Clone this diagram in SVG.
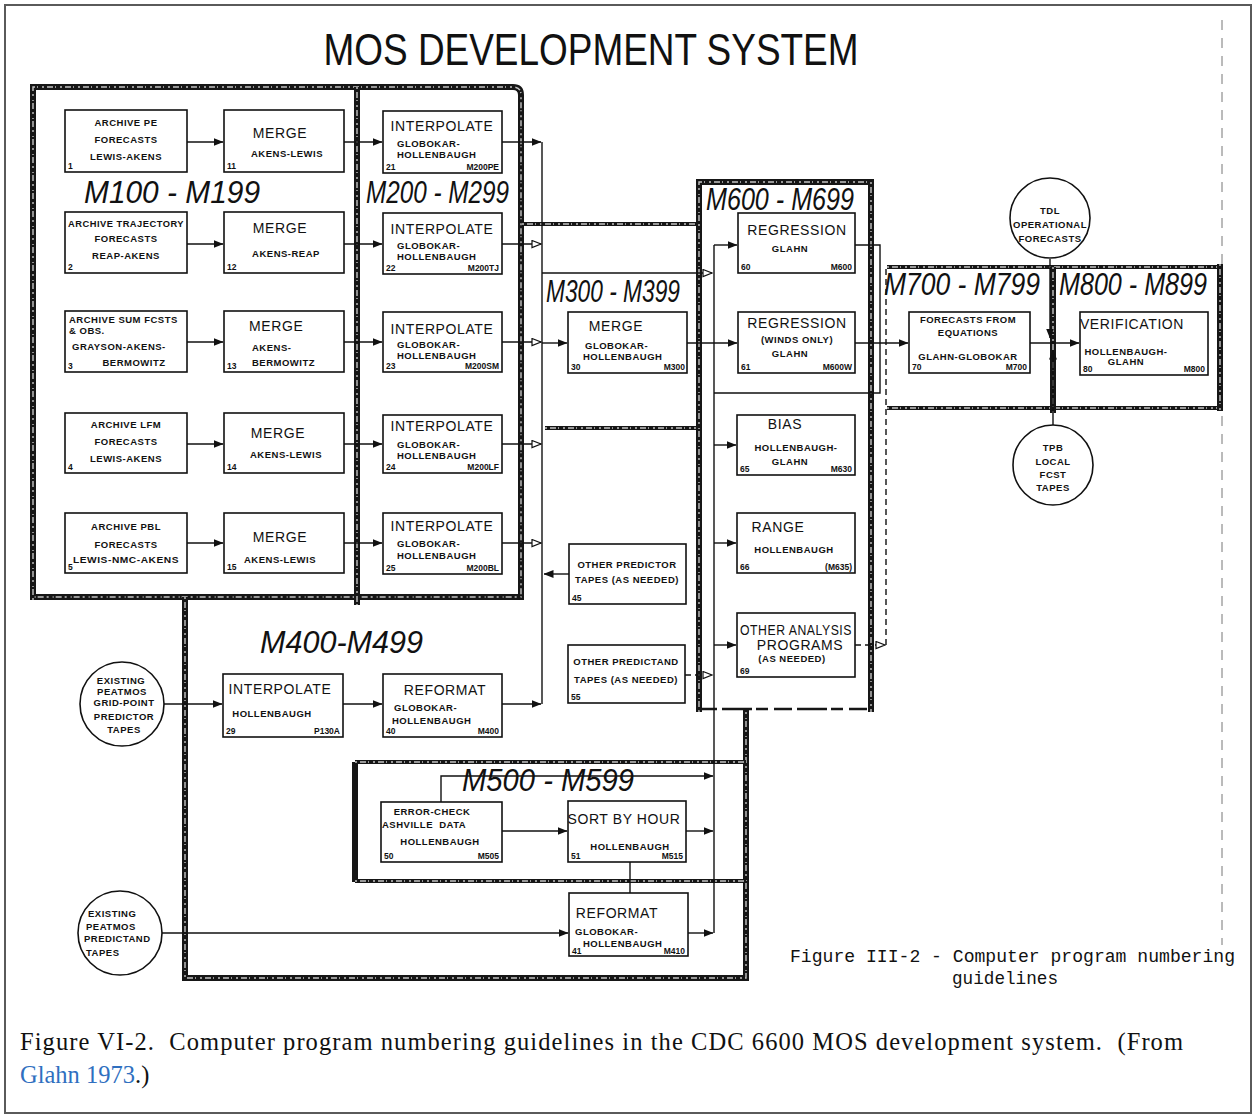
<svg xmlns="http://www.w3.org/2000/svg" width="1256" height="1118" viewBox="0 0 1256 1118">
<defs>
<marker id="ah" markerWidth="10" markerHeight="8" refX="9.5" refY="4" orient="auto" markerUnits="userSpaceOnUse"><path d="M0,0 L10,4 L0,8 z" fill="#111"/></marker>
<marker id="ao" markerWidth="11" markerHeight="9" refX="10" refY="4.5" orient="auto" markerUnits="userSpaceOnUse"><path d="M1,1 L10,4.5 L1,8 z" fill="#fff" stroke="#111" stroke-width="1.2"/></marker>
<style>
.bx{fill:#fff;stroke:#111;stroke-width:1.6}
.ci{fill:#fff;stroke:#111;stroke-width:1.6}
.s{font-family:"Liberation Sans",Arial,sans-serif;font-weight:bold;font-size:9.5px;letter-spacing:.5px;fill:#111;text-anchor:middle}
.sl{font-family:"Liberation Sans",Arial,sans-serif;font-weight:bold;font-size:9.5px;letter-spacing:.5px;fill:#111;text-anchor:start}
.b{font-family:"Liberation Sans",Arial,sans-serif;font-size:14px;letter-spacing:.6px;fill:#111;text-anchor:middle}
.bl{font-family:"Liberation Sans",Arial,sans-serif;font-size:14px;letter-spacing:.6px;fill:#111;text-anchor:start}
.nm{font-family:"Liberation Sans",Arial,sans-serif;font-weight:bold;font-size:8.5px;fill:#111;text-anchor:start}
.cd{font-family:"Liberation Sans",Arial,sans-serif;font-weight:bold;font-size:8.5px;fill:#111;text-anchor:end}
.hw{font-family:"Liberation Sans",Arial,sans-serif;font-style:italic;font-size:31px;fill:#111}
.gb{fill:none;stroke:#161616;stroke-width:6}
.gh{fill:none;stroke:#161616;stroke-width:4}
.gt{fill:none;stroke:#fff;stroke-width:1.4;stroke-dasharray:2 3 6 2 1 4;opacity:.75}
.ln{fill:none;stroke:#111;stroke-width:1.4}
.dl{fill:none;stroke:#111;stroke-width:1.4;stroke-dasharray:6 4}
.mono{font-family:"Liberation Mono","Courier New",monospace;font-size:18px;fill:#111}
.cap{font-family:"Liberation Serif","Times New Roman",serif;font-size:24.5px;fill:#111}
</style>
</defs>
<rect width="1256" height="1118" fill="#fff"/>
<rect x="5" y="5" width="1246" height="1108" fill="none" stroke="#5a5a5a" stroke-width="2"/>
<path d="M1222,20 V945" fill="none" stroke="#777" stroke-width="1" stroke-dasharray="10 8"/>

<text x="591" y="65" font-family="'Liberation Sans Narrow','Liberation Sans',Arial,sans-serif" font-size="44" fill="#111" text-anchor="middle" textLength="535" lengthAdjust="spacingAndGlyphs">MOS DEVELOPMENT SYSTEM</text>

<g id="groups">
<path class="gb" d="M33,600 V87 H513 Q521,87 521,95 V597 H33"/>
<path class="gt" d="M33,600 V87 H513 Q521,87 521,95 V597 H33"/>
<path class="gb" d="M357,87 V605"/>
<path class="gt" d="M357,87 V605"/>
<path class="gh" d="M522,224 H697 M545,428 H697"/>
<path class="gt" d="M522,224 H697 M545,428 H697"/>
<path class="gb" d="M699,712 V182 H871 V712"/>
<path class="gt" d="M699,712 V182 H871 V712"/>
<path fill="none" stroke="#161616" stroke-width="2.5" stroke-dasharray="18 5 30 4 12 6" d="M699,709 H871"/>
<path class="gb" d="M185,597 V978 H746 V709"/>
<path class="gt" d="M185,597 V978 H746 V709"/>
<path class="gb" d="M355,762 V882"/>
<path class="gh" d="M355,762 H746 M355,881 H746"/>
<path class="gt" d="M355,762 H746 M355,881 H746"/>
<path class="gh" d="M887,267 H1220 M887,408 H1220"/>
<path class="gt" d="M887,267 H1220 M887,408 H1220"/>
<path class="gb" d="M1220,264 V411"/>
<path class="gb" d="M1053,267 V413"/>
<path class="gt" d="M1053,267 V413 M1220,264 V411"/>
</g>

<g id="labels">
<text class="hw" x="84" y="203" textLength="176" lengthAdjust="spacingAndGlyphs">M100 - M199</text>
<text class="hw" x="366" y="203" textLength="143" lengthAdjust="spacingAndGlyphs">M200 - M299</text>
<text class="hw" x="546" y="302" textLength="134" lengthAdjust="spacingAndGlyphs" font-size="28">M300 - M399</text>
<text class="hw" x="260" y="653" textLength="163" lengthAdjust="spacingAndGlyphs">M400-M499</text>
<text class="hw" x="462" y="791" textLength="172" lengthAdjust="spacingAndGlyphs">M500 - M599</text>
<text class="hw" x="706" y="210" textLength="148" lengthAdjust="spacingAndGlyphs" font-size="27">M600 - M699</text>
<text class="hw" x="884" y="295" textLength="156" lengthAdjust="spacingAndGlyphs" font-size="27">M700 - M799</text>
<text class="hw" x="1059" y="295" textLength="148" lengthAdjust="spacingAndGlyphs" font-size="27">M800 - M899</text>
</g>

<g id="connectors">
<path class="ln" marker-end="url(#ah)" d="M187,142 H223"/>
<path class="ln" marker-end="url(#ah)" d="M187,244 H223"/>
<path class="ln" marker-end="url(#ah)" d="M187,342 H223"/>
<path class="ln" marker-end="url(#ah)" d="M187,444 H223"/>
<path class="ln" marker-end="url(#ah)" d="M187,543 H223"/>
<path class="ln" marker-end="url(#ah)" d="M344,142 H382"/>
<path class="ln" marker-end="url(#ah)" d="M344,244 H382"/>
<path class="ln" marker-end="url(#ah)" d="M344,342 H382"/>
<path class="ln" marker-end="url(#ah)" d="M344,444 H382"/>
<path class="ln" marker-end="url(#ah)" d="M344,543 H382"/>
<path class="ln" marker-end="url(#ah)" d="M502,142 H541"/>
<path class="ln" marker-end="url(#ao)" d="M502,244 H541"/>
<path class="ln" marker-end="url(#ao)" d="M502,342 H541"/>
<path class="ln" marker-end="url(#ao)" d="M502,444 H541"/>
<path class="ln" marker-end="url(#ao)" d="M502,543 H541"/>
<path class="ln" d="M542,142 V704"/>
<path class="ln" marker-end="url(#ah)" d="M542,343 H567"/>
<path class="ln" marker-end="url(#ao)" d="M542,273 H712"/>
<path class="ln" marker-end="url(#ah)" d="M569,574 H544"/>
<path class="ln" marker-end="url(#ah)" d="M502,704 H541"/>
<path class="ln" marker-end="url(#ah)" d="M164,704 H222"/>
<path class="ln" marker-end="url(#ah)" d="M343,704 H382"/>
<path class="ln" marker-end="url(#ah)" d="M687,343 H737"/>
<path class="ln" d="M714,245 V933"/>
<path class="ln" marker-end="url(#ah)" d="M714,245 H737"/>
<path class="ln" marker-end="url(#ah)" d="M714,445 H736"/>
<path class="ln" marker-end="url(#ah)" d="M714,543 H736"/>
<path class="ln" marker-end="url(#ah)" d="M714,645 H736"/>
<path class="dl" marker-end="url(#ao)" d="M685,675 H712"/>
<path class="ln" d="M855,245 H880 V393 H714"/>
<path class="ln" marker-end="url(#ah)" d="M855,343 H908"/>
<path class="dl" marker-end="url(#ao)" d="M855,645 H885"/>
<path class="dl" d="M886,645 V268"/>
<path class="ln" marker-end="url(#ah)" d="M1030,343 H1079"/>
<path class="ln" marker-end="url(#ah)" d="M1050,259 V338"/>
<path class="ln" marker-end="url(#ah)" d="M1053,425 V350"/>
<path class="ln" marker-end="url(#ah)" d="M441,802 V776 H713"/>
<path class="ln" marker-end="url(#ah)" d="M502,831 H567"/>
<path class="ln" marker-end="url(#ah)" d="M686,831 H713"/>
<path class="ln" d="M630,862 V893"/>
<path class="ln" marker-end="url(#ah)" d="M162,933 H568"/>
<path class="ln" marker-end="url(#ah)" d="M688,933 H713"/>
</g>

<g id="n1"><rect class="bx" x="65" y="110" width="122" height="62"/>
<text class="s" x="126" y="126">ARCHIVE PE</text><text class="s" x="126" y="143">FORECASTS</text><text class="s" x="126" y="160">LEWIS-AKENS</text><text class="nm" x="68" y="169">1</text></g>
<g id="n2"><rect class="bx" x="65" y="212" width="122" height="61"/>
<text class="s" x="126" y="227" textLength="116" lengthAdjust="spacingAndGlyphs">ARCHIVE TRAJECTORY</text><text class="s" x="126" y="242">FORECASTS</text><text class="s" x="126" y="259">REAP-AKENS</text><text class="nm" x="68" y="270">2</text></g>
<g id="n3"><rect class="bx" x="65" y="311" width="122" height="61"/>
<text class="sl" x="69" y="323">ARCHIVE SUM FCSTS</text><text class="sl" x="69" y="334">&amp; OBS.</text><text class="sl" x="72" y="350">GRAYSON-AKENS-</text><text class="s" x="134" y="366">BERMOWITZ</text><text class="nm" x="68" y="369">3</text></g>
<g id="n4"><rect class="bx" x="65" y="413" width="122" height="60"/>
<text class="s" x="126" y="428">ARCHIVE LFM</text><text class="s" x="126" y="445">FORECASTS</text><text class="s" x="126" y="462">LEWIS-AKENS</text><text class="nm" x="68" y="470">4</text></g>
<g id="n5"><rect class="bx" x="65" y="513" width="122" height="60"/>
<text class="s" x="126" y="530">ARCHIVE PBL</text><text class="s" x="126" y="548">FORECASTS</text><text class="s" x="126" y="563" textLength="106" lengthAdjust="spacingAndGlyphs">LEWIS-NMC-AKENS</text><text class="nm" x="68" y="570">5</text></g>

<g id="n11"><rect class="bx" x="224" y="110" width="120" height="62"/>
<text class="b" x="280" y="138">MERGE</text><text class="s" x="287" y="157">AKENS-LEWIS</text><text class="nm" x="227" y="169">11</text></g>
<g id="n12"><rect class="bx" x="224" y="212" width="120" height="61"/>
<text class="b" x="280" y="233">MERGE</text><text class="s" x="286" y="257">AKENS-REAP</text><text class="nm" x="227" y="270">12</text></g>
<g id="n13"><rect class="bx" x="224" y="311" width="120" height="61"/>
<text class="bl" x="249" y="331">MERGE</text><text class="sl" x="252" y="351">AKENS-</text><text class="sl" x="252" y="366">BERMOWITZ</text><text class="nm" x="227" y="369">13</text></g>
<g id="n14"><rect class="bx" x="224" y="413" width="120" height="60"/>
<text class="b" x="278" y="438">MERGE</text><text class="s" x="286" y="458">AKENS-LEWIS</text><text class="nm" x="227" y="470">14</text></g>
<g id="n15"><rect class="bx" x="224" y="513" width="120" height="60"/>
<text class="b" x="280" y="542">MERGE</text><text class="s" x="280" y="563">AKENS-LEWIS</text><text class="nm" x="227" y="570">15</text></g>

<g id="n21"><rect class="bx" x="383" y="111" width="119" height="62"/>
<text class="b" x="442" y="131">INTERPOLATE</text><text class="sl" x="397" y="147">GLOBOKAR-</text><text class="sl" x="397" y="158">HOLLENBAUGH</text><text class="nm" x="386" y="170">21</text><text class="cd" x="499" y="170">M200PE</text></g>
<g id="n22"><rect class="bx" x="383" y="213" width="119" height="61"/>
<text class="b" x="442" y="234">INTERPOLATE</text><text class="sl" x="397" y="249">GLOBOKAR-</text><text class="sl" x="397" y="260">HOLLENBAUGH</text><text class="nm" x="386" y="271">22</text><text class="cd" x="499" y="271">M200TJ</text></g>
<g id="n23"><rect class="bx" x="383" y="312" width="119" height="60"/>
<text class="b" x="442" y="334">INTERPOLATE</text><text class="sl" x="397" y="348">GLOBOKAR-</text><text class="sl" x="397" y="359">HOLLENBAUGH</text><text class="nm" x="386" y="369">23</text><text class="cd" x="499" y="369">M200SM</text></g>
<g id="n24"><rect class="bx" x="383" y="415" width="119" height="58"/>
<text class="b" x="442" y="431">INTERPOLATE</text><text class="sl" x="397" y="448">GLOBOKAR-</text><text class="sl" x="397" y="459">HOLLENBAUGH</text><text class="nm" x="386" y="470">24</text><text class="cd" x="499" y="470">M200LF</text></g>
<g id="n25"><rect class="bx" x="383" y="513" width="119" height="61"/>
<text class="b" x="442" y="531">INTERPOLATE</text><text class="sl" x="397" y="547">GLOBOKAR-</text><text class="sl" x="397" y="559">HOLLENBAUGH</text><text class="nm" x="386" y="571">25</text><text class="cd" x="499" y="571">M200BL</text></g>

<g id="n30"><rect class="bx" x="568" y="312" width="119" height="61"/>
<text class="b" x="616" y="331">MERGE</text><text class="sl" x="585" y="349">GLOBOKAR-</text><text class="sl" x="583" y="360">HOLLENBAUGH</text><text class="nm" x="571" y="370">30</text><text class="cd" x="685" y="370">M300</text></g>
<g id="n45"><rect class="bx" x="569" y="544" width="117" height="60"/>
<text class="s" x="627" y="568">OTHER PREDICTOR</text><text class="s" x="627" y="583">TAPES (AS NEEDED)</text><text class="nm" x="572" y="601">45</text></g>
<g id="n55"><rect class="bx" x="568" y="645" width="117" height="58"/>
<text class="s" x="626" y="665">OTHER PREDICTAND</text><text class="s" x="626" y="683">TAPES (AS NEEDED)</text><text class="nm" x="571" y="700">55</text></g>

<g id="n60"><rect class="bx" x="738" y="213" width="117" height="60"/>
<text class="b" x="797" y="235">REGRESSION</text><text class="s" x="790" y="252">GLAHN</text><text class="nm" x="741" y="270">60</text><text class="cd" x="852" y="270">M600</text></g>
<g id="n61"><rect class="bx" x="738" y="312" width="117" height="61"/>
<text class="b" x="797" y="328">REGRESSION</text><text class="s" x="797" y="343">(WINDS ONLY)</text><text class="s" x="790" y="357">GLAHN</text><text class="nm" x="741" y="370">61</text><text class="cd" x="852" y="370">M600W</text></g>
<g id="n65"><rect class="bx" x="737" y="415" width="118" height="60"/>
<text class="b" x="785" y="429">BIAS</text><text class="s" x="796" y="451">HOLLENBAUGH-</text><text class="s" x="790" y="465">GLAHN</text><text class="nm" x="740" y="472">65</text><text class="cd" x="852" y="472">M630</text></g>
<g id="n66"><rect class="bx" x="737" y="513" width="118" height="60"/>
<text class="b" x="778" y="532">RANGE</text><text class="s" x="794" y="553">HOLLENBAUGH</text><text class="nm" x="740" y="570">66</text><text class="cd" x="852" y="570">(M635)</text></g>
<g id="n69"><rect class="bx" x="737" y="613" width="118" height="64"/>
<text class="b" x="796" y="635" font-size="13" textLength="112" lengthAdjust="spacingAndGlyphs">OTHER ANALYSIS</text><text class="b" x="800" y="650" font-size="13">PROGRAMS</text><text class="s" x="792" y="662">(AS NEEDED)</text><text class="nm" x="740" y="674">69</text></g>

<g id="n70"><rect class="bx" x="909" y="312" width="121" height="61"/>
<text class="s" x="968" y="323">FORECASTS FROM</text><text class="s" x="968" y="336">EQUATIONS</text><text class="s" x="968" y="360">GLAHN-GLOBOKAR</text><text class="nm" x="912" y="370">70</text><text class="cd" x="1027" y="370">M700</text></g>
<g id="n80"><rect class="bx" x="1080" y="312" width="128" height="63"/>
<text class="b" x="1132" y="329">VERIFICATION</text><text class="s" x="1126" y="355">HOLLENBAUGH-</text><text class="s" x="1126" y="365">GLAHN</text><text class="nm" x="1083" y="372">80</text><text class="cd" x="1205" y="372">M800</text></g>

<g id="n29"><rect class="bx" x="223" y="674" width="120" height="63"/>
<text class="b" x="280" y="694">INTERPOLATE</text><text class="s" x="272" y="717">HOLLENBAUGH</text><text class="nm" x="226" y="734">29</text><text class="cd" x="340" y="734">P130A</text></g>
<g id="n40"><rect class="bx" x="383" y="674" width="119" height="63"/>
<text class="b" x="445" y="695">REFORMAT</text><text class="sl" x="394" y="711">GLOBOKAR-</text><text class="sl" x="392" y="724">HOLLENBAUGH</text><text class="nm" x="386" y="734">40</text><text class="cd" x="499" y="734">M400</text></g>
<g id="n50"><rect class="bx" x="381" y="802" width="121" height="60"/>
<text class="s" x="432" y="815">ERROR-CHECK</text><text class="sl" x="382" y="828">ASHVILLE&#160; DATA</text><text class="s" x="440" y="845">HOLLENBAUGH</text><text class="nm" x="384" y="859">50</text><text class="cd" x="499" y="859">M505</text></g>
<g id="n51"><rect class="bx" x="568" y="801" width="118" height="61"/>
<text class="b" x="624" y="824" font-size="13">SORT BY HOUR</text><text class="s" x="630" y="850">HOLLENBAUGH</text><text class="nm" x="571" y="859">51</text><text class="cd" x="683" y="859">M515</text></g>
<g id="n41"><rect class="bx" x="569" y="893" width="119" height="63"/>
<text class="b" x="617" y="918">REFORMAT</text><text class="sl" x="575" y="935">GLOBOKAR-</text><text class="sl" x="583" y="947">HOLLENBAUGH</text><text class="nm" x="572" y="954">41</text><text class="cd" x="685" y="954">M410</text></g>

<g id="c_tdl"><circle class="ci" cx="1050" cy="218" r="40"/>
<text class="s" x="1050" y="214" font-size="8.5">TDL</text><text class="s" x="1050" y="228" font-size="8.5" letter-spacing="0">OPERATIONAL</text><text class="s" x="1050" y="242" font-size="8.5">FORECASTS</text></g>
<g id="c_tpb"><circle class="ci" cx="1053" cy="465" r="40"/>
<text class="s" x="1053" y="451" font-size="9">TPB</text><text class="s" x="1053" y="465" font-size="9">LOCAL</text><text class="s" x="1053" y="478" font-size="9">FCST</text><text class="s" x="1053" y="491" font-size="9">TAPES</text></g>
<g id="c_grid"><circle class="ci" cx="122" cy="704" r="42"/>
<text class="s" x="121" y="684" font-size="9">EXISTING</text><text class="s" x="122" y="695" font-size="9">PEATMOS</text><text class="s" x="124" y="706" font-size="9">GRID-POINT</text><text class="s" x="124" y="720" font-size="9">PREDICTOR</text><text class="s" x="124" y="733" font-size="9">TAPES</text></g>
<g id="c_pred"><circle class="ci" cx="120" cy="933" r="42"/>
<text class="sl" x="88" y="917" font-size="9">EXISTING</text><text class="sl" x="86" y="930" font-size="9">PEATMOS</text><text class="sl" x="84" y="942" font-size="9">PREDICTAND</text><text class="sl" x="86" y="956" font-size="9">TAPES</text></g>

<text class="mono" x="790" y="962" textLength="445" lengthAdjust="spacingAndGlyphs">Figure III-2 - Computer program numbering</text>
<text class="mono" x="952" y="984" textLength="106" lengthAdjust="spacingAndGlyphs">guidelines</text>

<text class="cap" x="20" y="1050" textLength="1163" lengthAdjust="spacing">Figure VI-2.&#160; Computer program numbering guidelines in the CDC 6600 MOS development system.&#160; (From</text>
<text class="cap" x="20" y="1083"><tspan fill="#2f6fbf">Glahn 1973</tspan>.)</text>
</svg>
